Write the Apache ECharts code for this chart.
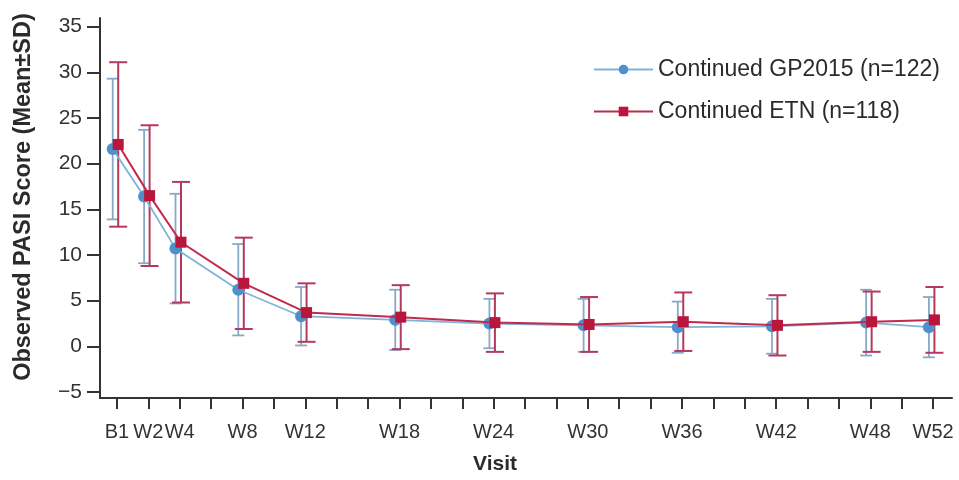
<!DOCTYPE html>
<html>
<head>
<meta charset="utf-8">
<script src="https://cdn.jsdelivr.net/npm/echarts@6/dist/echarts.min.js"></script>
<style>
html,body{margin:0;padding:0;background:#fff;}
#chart{width:959px;height:480px;}
</style>
</head>
<body>
<div id="chart"></div>
<script>
// ---- data ----
const visitWeeks  = [0, 2, 4, 8, 12, 18, 24, 30, 36, 42, 48, 52];
const visitLabels = ['B1','W2','W4','W8','W12','W18','W24','W30','W36','W42','W48','W52'];
const tickWeeks   = [0,2,4,6,8,10,12,14,16,18,20,22,24,26,28,30,32,34,36,38,40,42,44,46,48,50,52];
const yTickValues = [-5, 0, 5, 10, 15, 20, 25, 30, 35];

const gpName  = 'Continued GP2015 (n=122)';
const gpMean  = [21.6, 16.4, 10.7, 6.2, 3.3, 2.9, 2.5, 2.3, 2.1, 2.2, 2.6, 2.1];
const gpSD    = [7.7, 7.3, 6.0, 5.0, 3.2, 3.3, 2.7, 2.9, 2.8, 3.0, 3.6, 3.3];

const etnName = 'Continued ETN (n=118)';
const etnMean = [22.1, 16.5, 11.4, 6.9, 3.7, 3.2, 2.6, 2.4, 2.7, 2.3, 2.7, 2.9];
const etnSD   = [9.0, 7.7, 6.6, 5.0, 3.2, 3.5, 3.2, 3.0, 3.2, 3.3, 3.3, 3.6];

// ---- styling ----
const FONT = 'Liberation Sans, Arial, sans-serif';
const gpDodge = -0.27, etnDodge = 0.08;
const gpLine = '#7fb3d9', gpMark = '#4f8fcb', gpErr = '#87a9c8';
const etnLine = '#c02a4c', etnMark = '#b8173b', etnErr = '#b33a5e';

function errSeries(name, weeks, mean, sd, dodge, color, lw, capHalf) {
  return {
    type: 'custom',
    name: name,
    silent: true,
    encode: { x: 0, y: 1 },
    data: weeks.map((w, i) => [w + dodge, mean[i], sd[i]]),
    renderItem: function (params, api) {
      const x = api.value(0), m = api.value(1), s = api.value(2);
      const t = api.coord([x, m + s]);
      const b = api.coord([x, m - s]);
      const st = { stroke: color, lineWidth: lw };
      return {
        type: 'group',
        children: [
          { type: 'line', shape: { x1: t[0], y1: t[1], x2: b[0], y2: b[1] }, style: st },
          { type: 'line', shape: { x1: t[0] - capHalf, y1: t[1], x2: t[0] + capHalf, y2: t[1] }, style: st },
          { type: 'line', shape: { x1: b[0] - capHalf, y1: b[1], x2: b[0] + capHalf, y2: b[1] }, style: st }
        ]
      };
    },
    z: 2
  };
}

const chart = echarts.init(document.getElementById('chart'), null, { renderer: 'canvas' });
chart.setOption({
  animation: false,
  backgroundColor: '#fff',
  textStyle: { fontFamily: FONT },
  grid: { left: 100, right: 7, top: 18, bottom: 76, containLabel: false },
  legend: {
    orient: 'vertical',
    left: 588,
    top: 53,
    itemWidth: 59,
    itemHeight: 12,
    itemGap: 19,
    data: [gpName, etnName],
    textStyle: { fontSize: 23, color: '#2b2b2b', fontFamily: FONT }
  },
  xAxis: {
    type: 'value',
    min: -1.08,
    max: 53.2,
    splitLine: { show: false },
    axisLine: { onZero: false, lineStyle: { color: '#333', width: 2 } },
    axisTick: { show: true, length: 11, lineStyle: { color: '#333', width: 2 }, customValues: tickWeeks },
    axisLabel: {
      customValues: visitWeeks,
      formatter: function (v) { const i = visitWeeks.indexOf(v); return i >= 0 ? visitLabels[i] : ''; },
      fontSize: 20, color: '#333', margin: 24, fontFamily: FONT
    },
    name: 'Visit',
    nameLocation: 'middle',
    nameGap: 56,
    nameTextStyle: { fontSize: 21, fontWeight: 'bold', color: '#2b2b2b', fontFamily: FONT, padding: [0, 62, 0, 0] }
  },
  yAxis: {
    type: 'value',
    min: -5.65,
    max: 35.94,
    splitLine: { show: false },
    axisLine: { show: true, onZero: false, lineStyle: { color: '#333', width: 2 } },
    axisTick: { show: true, length: 13, lineStyle: { color: '#333', width: 2 }, customValues: yTickValues },
    axisLabel: { customValues: yTickValues, fontSize: 21, color: '#333', margin: 18, fontFamily: FONT,
      formatter: function (v) { return v < 0 ? '\u2212' + Math.abs(v) : String(v); } },
    name: 'Observed PASI Score (Mean\u00b1SD)',
    nameLocation: 'middle',
    nameGap: 64,
    nameTextStyle: { fontSize: 23.5, fontWeight: 'bold', color: '#2b2b2b', fontFamily: FONT, padding: [0, 0, 0, 22] }
  },
  series: [
    errSeries('gp-sd', visitWeeks, gpMean, gpSD, gpDodge, gpErr, 1.8, 6),
    errSeries('etn-sd', visitWeeks, etnMean, etnSD, etnDodge, etnErr, 2, 9),
    {
      type: 'line', name: gpName,
      data: visitWeeks.map((w, i) => [w + gpDodge, gpMean[i]]),
      symbol: 'circle', symbolSize: 12,
      lineStyle: { color: gpLine, width: 1.8 },
      itemStyle: { color: gpMark },
      z: 3
    },
    {
      type: 'line', name: etnName,
      data: visitWeeks.map((w, i) => [w + etnDodge, etnMean[i]]),
      symbol: 'rect', symbolSize: 11,
      lineStyle: { color: etnLine, width: 2 },
      itemStyle: { color: etnMark },
      z: 4
    }
  ]
});
</script>
</body>
</html>
